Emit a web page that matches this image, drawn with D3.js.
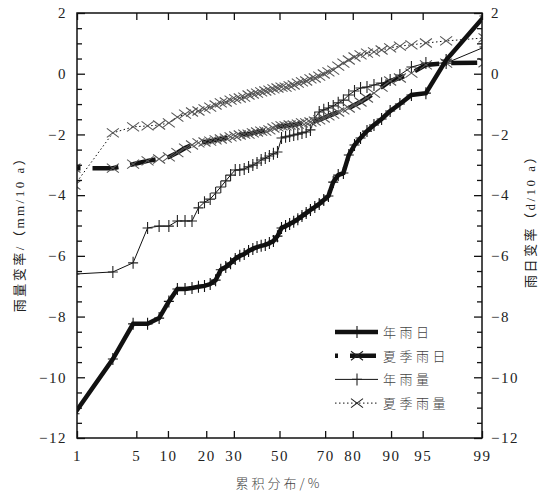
<!DOCTYPE html>
<html lang="zh">
<head>
<meta charset="UTF-8">
<title>累积分布</title>
<script src="https://cdn.jsdelivr.net/npm/d3@7"></script>
<style>
    body { margin: 0; background: #fff; }
    svg text { font-family: "Liberation Serif", "Times New Roman", "DejaVu Serif", "Noto Sans CJK SC", serif; fill: #222; }
    svg text.cjk { font-family: "Noto Sans CJK SC", sans-serif; font-weight: 300; fill: #444; }
</style>
</head>
<body>
<div id="chart"></div>
<script>
    // sorted trend values of the 54 stations
    const annualDays = [-11.2, -9.4, -8.24, -8.24, -8.05, -7.5, -7.09, -7.09, -7.06, -7.02,
        -6.99, -6.93, -6.8, -6.46, -6.37, -6.24, -6.1, -6.0, -5.94, -5.84,
        -5.77, -5.71, -5.67, -5.64, -5.58, -5.51, -5.35, -5.08, -5.02, -4.95,
        -4.88, -4.79, -4.69, -4.59, -4.49, -4.39, -4.29, -4.16, -4.03, -3.57,
        -3.34, -3.27, -2.68, -2.35, -2.12, -1.89, -1.69, -1.49, -1.23, -1.0,
        -0.7, -0.64, 0.45, 1.9];
    const summerDays = [-3.11, -3.11, -2.98, -2.87, -2.81, -2.74, -2.6, -2.45, -2.35, -2.28,
        -2.25, -2.22, -2.18, -2.15, -2.12, -2.08, -2.05, -2.02, -1.99, -1.99,
        -1.95, -1.92, -1.89, -1.89, -1.85, -1.79, -1.75, -1.72, -1.72, -1.69,
        -1.69, -1.66, -1.62, -1.62, -1.59, -1.56, -1.52, -1.46, -1.39, -1.33,
        -1.26, -1.19, -1.13, -1.03, -0.93, -0.8, -0.64, -0.44, -0.24, -0.14,
        0.02, 0.29, 0.35, 0.36];
    const annualRain = [-6.6, -6.53, -6.23, -5.08, -5.02, -5.02, -4.85, -4.85, -4.85, -4.42,
        -4.23, -4.13, -3.93, -3.73, -3.53, -3.34, -3.17, -3.17, -3.14, -3.07,
        -3.01, -2.94, -2.84, -2.78, -2.71, -2.64, -2.58, -2.12, -2.08, -2.05,
        -2.02, -1.99, -1.95, -1.92, -1.85, -1.46, -1.26, -1.19, -1.13, -1.06,
        -0.96, -0.87, -0.7, -0.57, -0.47, -0.44, -0.37, -0.31, -0.21, -0.04,
        0.22, 0.35, 0.35, 0.88];
    const summerRain = [-3.67, -1.95, -1.75, -1.72, -1.69, -1.62, -1.43, -1.33, -1.26, -1.23,
        -1.16, -1.1, -1.03, -0.96, -0.93, -0.87, -0.83, -0.8, -0.77, -0.7,
        -0.67, -0.64, -0.6, -0.57, -0.54, -0.5, -0.47, -0.44, -0.44, -0.4,
        -0.37, -0.31, -0.27, -0.24, -0.17, -0.14, -0.08, -0.01, 0.06, 0.12,
        0.25, 0.35, 0.45, 0.55, 0.62, 0.68, 0.72, 0.78, 0.85, 0.91,
        0.95, 1.01, 1.08, 1.18];

    const xTicks = [1, 5, 10, 20, 30, 50, 70, 80, 90, 95, 99];
    const yTicks = [-12, -10, -8, -6, -4, -2, 0, 2];
    const legendNames = ["年雨日", "夏季雨日", "年雨量", "夏季雨量"];

    const width = 552, height = 493;
    const plotL = 77, plotR = 482, plotT = 13, plotB = 438;

    // inverse normal cdf (Acklam), for the probability axis
    function probit(p) {
        const a = [-39.69683028665376, 220.9460984245205, -275.9285104469687, 138.3577518672690, -30.66479806614716, 2.506628277459239];
        const b = [-54.47609879822406, 161.5858368580409, -155.6989798598866, 66.80131188771972, -13.28068155288572];
        const c = [-0.007784894002430293, -0.3223964580411365, -2.400758277161838, -2.549732539343734, 4.374664141464968, 2.938163982698783];
        const d = [0.007784695709041462, 0.3224671290700398, 2.445134137142996, 3.754408661907416];
        const pl = 0.02425;
        if (p < pl) {
            const q = Math.sqrt(-2 * Math.log(p));
            return (((((c[0] * q + c[1]) * q + c[2]) * q + c[3]) * q + c[4]) * q + c[5]) / ((((d[0] * q + d[1]) * q + d[2]) * q + d[3]) * q + 1);
        }
        if (p > 1 - pl) {
            const q = Math.sqrt(-2 * Math.log(1 - p));
            return -(((((c[0] * q + c[1]) * q + c[2]) * q + c[3]) * q + c[4]) * q + c[5]) / ((((d[0] * q + d[1]) * q + d[2]) * q + d[3]) * q + 1);
        }
        const q = p - 0.5, r = q * q;
        return (((((a[0] * r + a[1]) * r + a[2]) * r + a[3]) * r + a[4]) * r + a[5]) * q / (((((b[0] * r + b[1]) * r + b[2]) * r + b[3]) * r + b[4]) * r + 1);
    }

    const x = d3.scaleLinear().domain([probit(0.01), probit(0.99)]).range([plotL, plotR]);
    const y = d3.scaleLinear().domain([-12, 2]).range([plotB, plotT]);

    const svg = d3.select("#chart").append("svg")
        .attr("width", width)
        .attr("height", height);

    svg.append("clipPath").attr("id", "plot-clip")
        .append("rect")
        .attr("x", plotL).attr("y", plotT)
        .attr("width", plotR - plotL).attr("height", plotB - plotT);

    const plusPath = "M-5,0H5M0,-6V6";
    const crossPath = "M-6,-4.5L6,4.5M-6,4.5L6,-4.5";

    const series = [
        { name: legendNames[3], values: summerRain, width: 1, dash: "1.5,2.5", marker: crossPath, mColor: "#555" },
        { name: legendNames[2], values: annualRain, width: 1, dash: null, marker: plusPath, mColor: "#222" },
        { name: legendNames[1], values: summerDays, width: 4.5, dash: "26,12", offset: 20, marker: crossPath, mColor: "#555" },
        { name: legendNames[0], values: annualDays, width: 4.5, dash: null, marker: plusPath, mColor: "#111" }
    ];

    // plotting position of rank i in a sample of n
    const pos = (i, n) => x(probit((i + 0.5) / n));

    const line = d3.line()
        .x((d, i, arr) => pos(i, arr.length))
        .y(d => y(d));

    const plot = svg.append("g").attr("clip-path", "url(#plot-clip)");

    series.forEach(s => {
        const n = s.values.length;
        plot.append("path")
            .datum(s.values)
            .attr("fill", "none")
            .attr("stroke", "#111")
            .attr("stroke-width", s.width)
            .attr("stroke-dasharray", s.dash)
            .attr("stroke-dashoffset", s.offset || 0)
            .attr("d", line);

        plot.append("g")
            .selectAll("path")
            .data(s.values)
            .join("path")
            .attr("transform", (d, i) => `translate(${pos(i, n)},${y(d)})`)
            .attr("d", s.marker)
            .attr("stroke", s.mColor)
            .attr("stroke-width", 1.1)
            .attr("fill", "none");
    });

    // axes
    const xVals = xTicks.map(p => probit(p / 100));
    const fmtX = (d, i) => xTicks[i];
    const minor = d3.range(-12, 2.01, 0.5).filter(v => v % 2 !== 0);

    const axisStyle = g => {
        g.attr("font-family", null);
        g.select(".domain").remove();
        g.selectAll("line").attr("stroke", "#111").attr("stroke-width", 1.3);
        g.selectAll("text")
            .style("font-size", "15px")
            .style("letter-spacing", "1.5px")
            .attr("fill", "#222");
    };

    svg.append("g")
        .attr("transform", `translate(0,${plotB})`)
        .call(d3.axisBottom(x).tickValues(xVals).tickFormat(fmtX).tickSizeInner(-7).tickSizeOuter(0).tickPadding(12))
        .call(axisStyle);

    svg.append("g")
        .attr("transform", `translate(0,${plotT})`)
        .call(d3.axisTop(x).tickValues(xVals).tickFormat("").tickSizeInner(-7).tickSizeOuter(0))
        .call(axisStyle);

    svg.append("g")
        .attr("transform", `translate(${plotL},0)`)
        .call(d3.axisLeft(y).tickValues(yTicks).tickFormat(d3.format("d")).tickSizeInner(-8).tickSizeOuter(0).tickPadding(10))
        .call(axisStyle);
    svg.append("g")
        .attr("transform", `translate(${plotL},0)`)
        .call(d3.axisLeft(y).tickValues(minor).tickFormat("").tickSizeInner(-5).tickSizeOuter(0))
        .call(axisStyle);

    svg.append("g")
        .attr("transform", `translate(${plotR},0)`)
        .call(d3.axisRight(y).tickValues(yTicks).tickFormat(d3.format("d")).tickSizeInner(-8).tickSizeOuter(0).tickPadding(9))
        .call(axisStyle);
    svg.append("g")
        .attr("transform", `translate(${plotR},0)`)
        .call(d3.axisRight(y).tickValues(minor).tickFormat("").tickSizeInner(-5).tickSizeOuter(0))
        .call(axisStyle);

    // frame
    svg.append("rect")
        .attr("x", plotL).attr("y", plotT)
        .attr("width", plotR - plotL).attr("height", plotB - plotT)
        .attr("fill", "none")
        .attr("stroke", "#111")
        .attr("stroke-width", 1.5);

    // axis titles
    svg.append("text")
        .attr("class", "cjk")
        .attr("x", 279).attr("y", 488)
        .attr("text-anchor", "middle")
        .style("font-size", "13px")
        .style("letter-spacing", "3px")
        .text("累积分布/%");

    svg.append("text")
        .attr("transform", "translate(24,231) rotate(-90)")
        .attr("text-anchor", "middle")
        .style("font-size", "13px")
        .style("letter-spacing", "2.5px")
        .text("雨量变率/（mm/10 a）");

    svg.append("text")
        .attr("transform", "translate(535,218) rotate(-90)")
        .attr("text-anchor", "middle")
        .style("font-size", "13px")
        .style("letter-spacing", "2.5px")
        .text("雨日变率（d/10 a）");

    // legend
    const legendOrder = [3, 2, 1, 0];
    const legend = svg.append("g").attr("transform", "translate(335,332)");
    legendOrder.forEach((k, j) => {
        const s = series[k];
        const g = legend.append("g").attr("transform", `translate(0,${j * 23.7})`);
        g.append("line")
            .attr("x1", 0).attr("x2", 43)
            .attr("stroke", "#111")
            .attr("stroke-width", s.width)
            .attr("stroke-dasharray", s.dash)
            .attr("stroke-dashoffset", s.dash === "26,12" ? 23 : 0);
        g.append("path")
            .attr("transform", "translate(22,0)")
            .attr("d", s.marker)
            .attr("stroke", s.mColor === "#555" ? "#222" : s.mColor)
            .attr("stroke-width", 1.1)
            .attr("fill", "none");
        g.append("text")
            .attr("class", "cjk")
            .attr("x", 48).attr("y", 5)
            .style("font-size", "13px")
            .style("letter-spacing", "3.5px")
            .text(s.name);
    });
</script>
</body>
</html>
